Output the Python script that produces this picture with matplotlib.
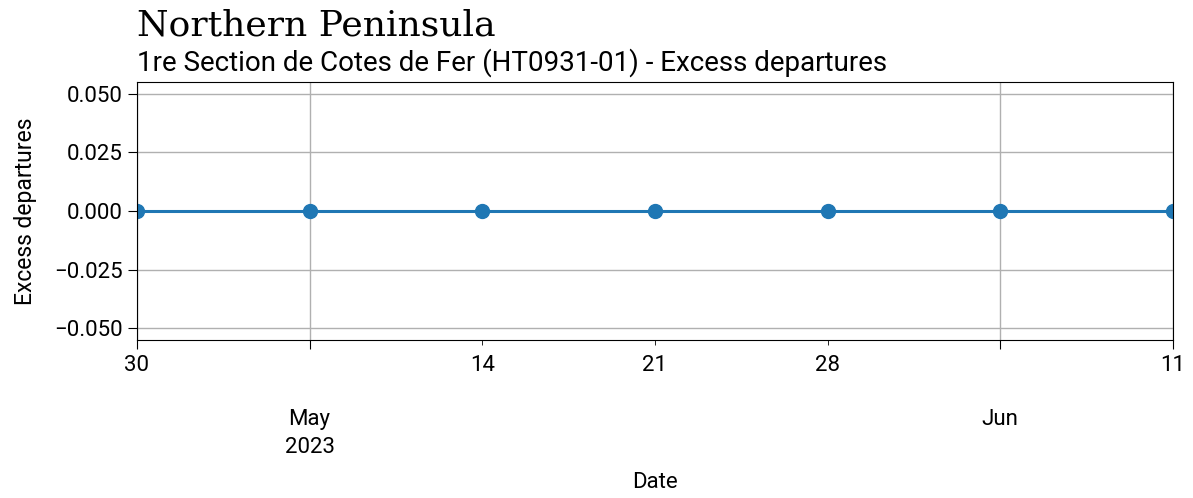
import pandas as pd
import matplotlib
matplotlib.use("Agg")
import matplotlib.pyplot as plt

plt.rcParams["font.family"] = ["Roboto", "DejaVu Sans"]

# weekly excess departures
week_start = "2023-04-30"
n_weeks = 7
excess = [0, 0, 0, 0, 0, 0, 0]

dates = pd.date_range(week_start, periods=n_weeks, freq="W-SUN", name="Date")
series = pd.Series(excess, index=dates, name="Excess departures")

fig = plt.figure(figsize=(11.93, 4.98), dpi=100)
ax = fig.add_axes([0.1148, 0.3173, 0.8684, 0.518])

series.plot(ax=ax, marker="o", markersize=10, linewidth=2.2, color="#1f77b4")

ax.set_ylim(-0.055, 0.055)
ax.set_yticks([-0.05, -0.025, 0, 0.025, 0.05])
ax.grid(True, color="#b0b0b0", linewidth=1)
ax.set_ylabel("Excess departures", fontsize=16.5, labelpad=12)
ax.set_xlabel("Date", fontsize=16, labelpad=10)
ax.tick_params(axis="both", which="both", labelsize=16)
ax.tick_params(axis="both", which="major", length=6.5, pad=4)
ax.tick_params(axis="x", which="minor", length=3.5, pad=7)

# taller line spacing for the month / year labels
fig.canvas.draw()
for lbl in ax.xaxis.get_majorticklabels():
    lbl.set_linespacing(1.4)

fig.text(0.1148, 0.928, "Northern Peninsula", fontsize=26,
         family="DejaVu Serif", va="baseline")
fig.text(0.1148, 0.858, "1re Section de Cotes de Fer (HT0931-01) - Excess departures",
         fontsize=20, va="baseline")

plt.savefig("out.png", dpi=100)
